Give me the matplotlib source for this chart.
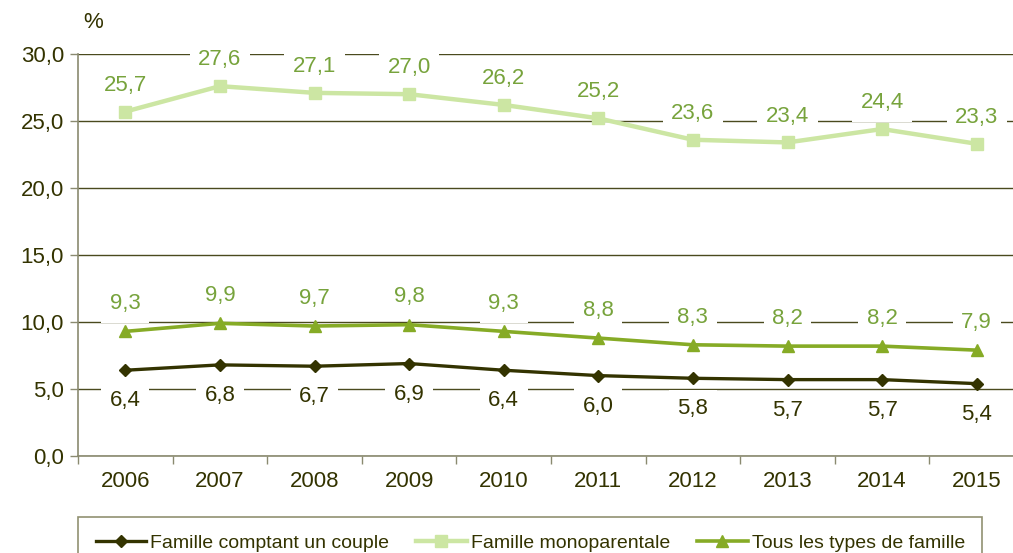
import matplotlib
matplotlib.use("Agg")
import matplotlib.pyplot as plt

years = ["2006", "2007", "2008", "2009", "2010", "2011", "2012", "2013", "2014", "2015"]
couple = [6.4, 6.8, 6.7, 6.9, 6.4, 6.0, 5.8, 5.7, 5.7, 5.4]
monoparentale = [25.7, 27.6, 27.1, 27.0, 26.2, 25.2, 23.6, 23.4, 24.4, 23.3]
tous = [9.3, 9.9, 9.7, 9.8, 9.3, 8.8, 8.3, 8.2, 8.2, 7.9]
yticks = [0, 5, 10, 15, 20, 25, 30]

dark = "#333300"
light = "#cce6a3"
mid = "#86ab26"
label_green = "#77a33c"
grid_col = "#4a4a1e"
spine_col = "#8a8a70"

plt.rcParams["font.family"] = ["Liberation Sans", "DejaVu Sans"]

fig = plt.figure(figsize=(10.13, 5.53), dpi=100)
ax = fig.add_axes([78 / 1013, 97 / 553, 946 / 1013, 402 / 553])

x = list(range(len(years)))
ax.plot(x, couple, color=dark, lw=2.4, marker="D", ms=6.5, label="Famille comptant un couple", zorder=4)
ax.plot(x, monoparentale, color=light, lw=3.2, marker="s", ms=8, label="Famille monoparentale", zorder=4)
ax.plot(x, tous, color=mid, lw=2.6, marker="^", ms=9, label="Tous les types de famille", zorder=4)

# white boxes behind the value labels cut the gridlines
box = dict(facecolor="white", edgecolor="none", pad=6)
for i in x:
    ax.annotate(f"{monoparentale[i]:.1f}".replace(".", ","), (i, monoparentale[i]), xytext=(0, 19),
                textcoords="offset points", ha="center", va="center", fontsize=16,
                color=label_green, bbox=box, zorder=3)
    ax.annotate(f"{tous[i]:.1f}".replace(".", ","), (i, tous[i]), xytext=(0, 20),
                textcoords="offset points", ha="center", va="center", fontsize=16,
                color=label_green, bbox=box, zorder=3)
    ax.annotate(f"{couple[i]:.1f}".replace(".", ","), (i, couple[i]), xytext=(0, -22),
                textcoords="offset points", ha="center", va="center", fontsize=16,
                color=dark, bbox=box, zorder=3)

ax.set_xlim(-0.5, len(years) - 0.5)
ax.set_ylim(0, 30)
ax.set_yticks(yticks)
ax.set_yticklabels([f"{v:.1f}".replace(".", ",") for v in yticks], fontsize=16, color=dark)
ax.set_xticks(x)
ax.set_xticklabels(years, fontsize=16, color=dark)
ax.tick_params(axis="x", length=0, pad=11)
ax.set_xticks([i - 0.5 for i in x] + [len(years) - 0.5], minor=True)
ax.tick_params(axis="x", which="minor", length=6, color=spine_col, width=1)
ax.tick_params(axis="y", length=6, color=spine_col, width=1, pad=4)

ax.grid(axis="y", color=grid_col, lw=1, zorder=0)
ax.set_axisbelow(True)
for side in ["top", "right"]:
    ax.spines[side].set_visible(False)
for side in ["left", "bottom"]:
    ax.spines[side].set_color(spine_col)
    ax.spines[side].set_linewidth(1.2)

fig.text(93 / 1013, 1 - 22 / 553, "%", fontsize=16, color=dark, ha="center", va="center")

leg = fig.legend(loc="upper left", bbox_to_anchor=(78 / 1013, 1 - 517 / 553), ncol=3,
                 fontsize=14, frameon=True, fancybox=False, handlelength=2.6,
                 handletextpad=0.2, columnspacing=1.4, borderpad=0.9, borderaxespad=0)
leg.get_frame().set_edgecolor("#76764e")
leg.get_frame().set_linewidth(1.2)
for t in leg.get_texts():
    t.set_color(dark)

fig.savefig("out.png", dpi=100)
